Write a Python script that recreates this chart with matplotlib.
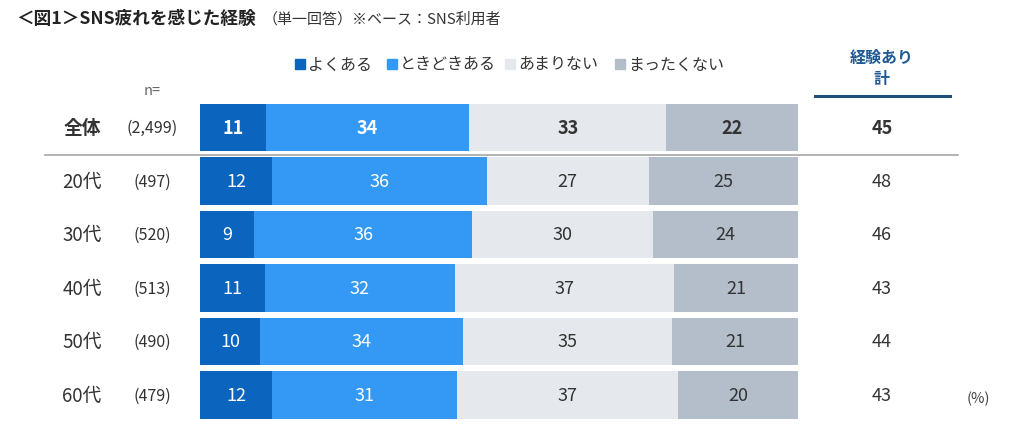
import numpy as np
import matplotlib
matplotlib.use('Agg')
import matplotlib.pyplot as plt
import matplotlib.transforms as mtransforms
from matplotlib.patches import Rectangle

plt.rcParams['font.family'] = ['Noto Sans CJK JP', 'DejaVu Sans']

# ── Data ─────────────────────────────────────────────────────────────────────
groups = ['全体', '20代', '30代', '40代', '50代', '60代']
n_labels = ['(2,499)', '(497)', '(520)', '(513)', '(490)', '(479)']
series = ['よくある', 'ときどきある', 'あまりない', 'まったくない']
often = [11, 12, 9, 11, 10, 12]
sometimes = [34, 36, 36, 32, 34, 31]
rarely = [33, 27, 30, 37, 35, 37]
never = [22, 25, 24, 21, 21, 20]
experienced = [45, 48, 46, 43, 44, 43]

colors = ['#0B64BE', '#3399F5', '#E5E8ED', '#B3BECA']
text_colors = ['white', 'white', '#333333', '#333333']

W, H = 1024, 431
fig = plt.figure(figsize=(W / 100, H / 100), dpi=100)

# axes: x 0..100 -> px 200..798, rows centred at 128.5 + 53.5*i
top_px, pitch = 128.5 - 26.75, 53.5
bot_px = top_px + pitch * len(groups)
ax = fig.add_axes([200 / W, 1 - bot_px / H, 598 / W, (bot_px - top_px) / H])
ax.set_xlim(0, 100)
ax.set_ylim(len(groups) - 0.5, -0.5)
ax.axis('off')

vals = np.array([often, sometimes, rarely, never], dtype=float)
tot = vals.sum(axis=0)
widths = vals / tot * 100
lefts = np.vstack([np.zeros(len(groups)), np.cumsum(widths, axis=0)[:-1]])
y = np.arange(len(groups))

for k in range(4):
    ax.barh(y, widths[k], left=lefts[k], height=0.88, color=colors[k], lw=0)
    for i in range(len(groups)):
        ax.text(lefts[k][i] + widths[k][i] / 2, i, f'{int(vals[k][i])}',
                ha='center', va='center', color=text_colors[k],
                fontsize=13, fontweight='bold' if i == 0 else 'normal')

# row labels & n, total column
tr = mtransforms.blended_transform_factory(fig.transFigure, ax.transData)
for i, g in enumerate(groups):
    bold = 'bold' if i == 0 else 'normal'
    ax.text(82 / W, i, g, transform=tr, ha='center', va='center',
            fontsize=13.5, fontweight=bold, color='#333333')
    ax.text(152 / W, i, n_labels[i], transform=tr, ha='center', va='center',
            fontsize=11.5, color='#333333')
    ax.text(882 / W, i, f'{experienced[i]}', transform=tr, ha='center',
            va='center', fontsize=13, fontweight=bold, color='#333333')

# title
fig.text(16 / W, 1 - 19 / H, '＜図1＞SNS疲れを感じた経験', fontsize=12.7,
         fontweight='bold', va='center', color='#222222')
fig.text(263 / W, 1 - 19 / H, '（単一回答）※ベース：SNS利用者', fontsize=10.8,
         va='center', color='#333333')

# legend
leg_x = [300, 392, 510, 620]
for k, s in enumerate(series):
    fig.patches.append(Rectangle(((leg_x[k] - 5) / W, 1 - 70 / H), 10 / W, 10 / H,
                                 transform=fig.transFigure, color=colors[k]))
    fig.text((leg_x[k] + 8) / W, 1 - 65 / H, s, fontsize=11.5, va='center',
             color='#333333')

fig.text(152 / W, 1 - 91 / H, 'n=', fontsize=10.5, ha='center', va='center',
         color='#666666')

# 経験あり計 header
fig.text(882 / W, 1 - 58 / H, '経験あり', fontsize=11.5, fontweight='bold',
         ha='center', va='center', color='#1F5A96')
fig.text(882 / W, 1 - 79 / H, '計', fontsize=11.5, fontweight='bold',
         ha='center', va='center', color='#1F5A96')
fig.add_artist(plt.Line2D([815 / W, 950 / W], [1 - 97 / H, 1 - 97 / H],
                          transform=fig.transFigure, color='#1F4E79', lw=2.2))

# divider under 全体
fig.add_artist(plt.Line2D([45 / W, 958 / W], [1 - 155.5 / H, 1 - 155.5 / H],
                          transform=fig.transFigure, color='#A6A6A6', lw=1.2))

fig.text(978 / W, 1 - 399 / H, '(%)', fontsize=10.5, ha='center', va='center',
         color='#444444')

fig.savefig('out.png', dpi=100)
